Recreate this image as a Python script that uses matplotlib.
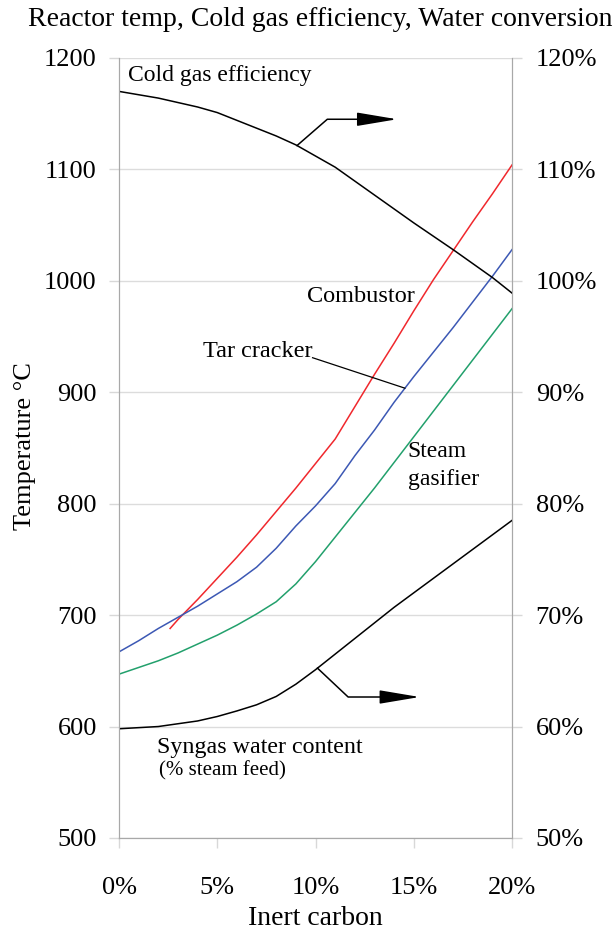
import matplotlib
matplotlib.use("Agg")
import matplotlib.pyplot as plt
import numpy as np

plt.rcParams['font.family'] = ['Liberation Serif', 'DejaVu Serif']

# ------- data: inert carbon (%) vs reactor temps (C) and percentages ----------
carbon = [0, 1, 2, 3, 4, 5, 6, 7, 8, 9, 10, 11, 12, 13, 14, 15, 16, 17, 18, 19, 20]

tar_cracker = [667, 677, 688, 698, 708, 719, 730, 743, 760, 780, 798,
               818, 843, 866, 891, 914, 936, 958, 981, 1004, 1028]
steam_gasifier = [647, 653, 659, 666, 674, 682, 691, 701, 712, 728, 748,
                  770, 792, 814, 837, 860, 883, 906, 929, 952, 975]

carbon_comb = [2.6, 3, 4, 5, 6, 7, 8, 9, 10, 11, 12, 13, 14, 15, 16, 17, 18, 19, 20]
combustor = [688, 696, 714, 733, 752, 772, 793, 814, 836, 858, 887, 916,
             944, 973, 1001, 1027, 1053, 1078, 1104]

carbon_cge = [0, 2, 4, 5, 6, 8, 9, 11, 13, 15, 17, 19, 20]
cold_gas_eff = [117.0, 116.4, 115.6, 115.1, 114.4, 113.0, 112.2, 110.2,
                107.7, 105.2, 102.8, 100.3, 98.9]

carbon_h2o = [0, 2, 4, 5, 6, 7, 8, 9, 10, 11, 12, 13, 14, 15, 16, 17, 18, 19, 20]
water_content = [59.8, 60.0, 60.5, 60.9, 61.4, 61.95, 62.7, 63.8, 65.1, 66.5,
                 67.9, 69.3, 70.7, 72.0, 73.3, 74.6, 75.9, 77.2, 78.5]

x_ticks = [0, 5, 10, 15, 20]
x_labels = ['0%', '5%', '10%', '15%', '20%']
t_ticks = [500, 600, 700, 800, 900, 1000, 1100, 1200]
p_ticks = [50, 60, 70, 80, 90, 100, 110, 120]
p_labels = ['%d%%' % p for p in p_ticks]

fig = plt.figure(figsize=(6.16, 9.32), dpi=100)
ax = fig.add_axes([0.1932, 0.1009, 0.638, 0.8369])
ax2 = ax.twinx()

grey = '#a8a8a8'
ax.set_xlim(0, 20)
ax.set_ylim(500, 1200)
ax2.set_ylim(50, 120)
ax.set_yticks(t_ticks)
ax.set_xticks(x_ticks)
ax.set_xticklabels(x_labels)
ax2.set_yticks(p_ticks)
ax2.set_yticklabels(p_labels)
ax.grid(axis='y', color='#dcdcdc', linewidth=1.0)
ax.set_axisbelow(True)

for a in (ax, ax2):
    a.spines['top'].set_visible(False)
    for s in ('left', 'right', 'bottom'):
        a.spines[s].set_color(grey)
tfs = 19
ax.tick_params(axis='y', length=7, color='#d8d8d8', width=1, pad=9, labelsize=tfs)
ax.tick_params(axis='x', length=7, color='#d8d8d8', width=1, pad=21, labelsize=tfs)
ax2.tick_params(axis='y', length=7, color='#d8d8d8', width=1, pad=10, labelsize=tfs)

# temperature lines
ax.plot(carbon_comb, combustor, color='#f0282d', lw=1.1)
ax.plot(carbon, tar_cracker, color='#3c58b4', lw=1.1)
ax.plot(carbon, steam_gasifier, color='#22a06c', lw=1.1)

# percentage lines on the right scale
ax2.plot(carbon_cge, cold_gas_eff, color='black', lw=1.1)
ax2.plot(carbon_h2o, water_content, color='black', lw=1.1)

# arrows pointing to the right-hand axis
arr = dict(arrowstyle='-|>,head_length=2.5,head_width=0.42', color='black',
           lw=1.1, mutation_scale=10, shrinkA=0, shrinkB=0)
x0 = 9.06
y0 = np.interp(x0, carbon_cge, cold_gas_eff)
ax2.plot([x0, 10.6, 12.4], [y0, 114.5, 114.5], color='black', lw=1.1)
ax2.annotate('', xy=(14.15, 114.5), xytext=(12.3, 114.5), arrowprops=arr)

x1 = 10.1
y1 = np.interp(x1, carbon_h2o, water_content)
ax2.plot([x1, 11.66, 13.5], [y1, 62.65, 62.65], color='black', lw=1.1)
ax2.annotate('', xy=(15.3, 62.65), xytext=(13.4, 62.65), arrowprops=arr)

# labels
fs = 17.5
ax.text(0.46, 1179, 'Cold gas efficiency', fontsize=17, va='baseline')
ax.text(9.57, 981, 'Combustor', fontsize=fs, va='baseline')
ax.text(4.27, 932, 'Tar cracker', fontsize=fs, va='baseline')
xt = 14.55
ax.plot([9.85, xt], [931, np.interp(xt, carbon, tar_cracker)], color='black', lw=0.9)
ax.text(14.7, 842, 'Steam', fontsize=17, va='baseline')
ax.text(14.7, 817, 'gasifier', fontsize=17, va='baseline')
ax.text(1.93, 576, 'Syngas water content', fontsize=17.3, va='baseline')
ax.text(2.04, 556, '(% steam feed)', fontsize=15, va='baseline')

ax.set_xlabel('Inert carbon', fontsize=20, labelpad=5)
fig.text(25 / 616, 1 - 446 / 932, 'Temperature °C', fontsize=19, rotation=90,
         ha='center', va='center')
fig.text(28 / 616, 1 - 20 / 932, 'Reactor temp, Cold gas efficiency, Water conversion',
         fontsize=20, ha='left', va='center')

plt.savefig('out.png', dpi=100)
